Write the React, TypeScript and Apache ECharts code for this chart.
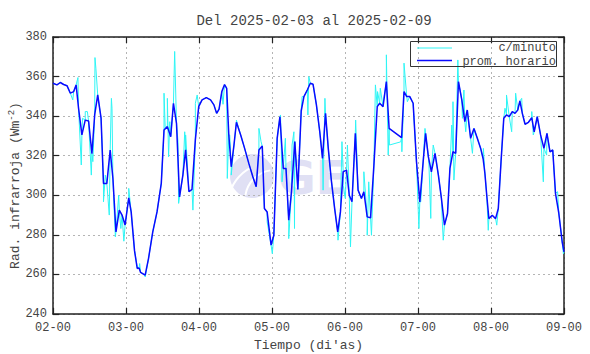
import React, { useEffect, useRef } from "react";
import * as echarts from "echarts";

const TITLE = "Del 2025-02-03 al 2025-02-09";
const X_NAME = "Tiempo (di'as)";
const Y_NAME = "Rad. infrarroja (Wm{sup|-2})";
const DAY_LABELS = ["02-00", "03-00", "04-00", "05-00", "06-00", "07-00", "08-00", "09-00"];
const LEGEND_LABELS = ["c/minuto", "prom. horario"];

// hourly averages: [hours since 02-00, W/m2]
const hourly: [number, number][] = [
  [0.0, 356.6], [1.3, 355.8], [2.4, 357.0], [3.5, 356.0], [4.6, 355.4], [5.7, 351.6], [6.8, 352.4],
  [7.6, 355.8], [8.4, 344.0], [9.5, 330.5], [10.6, 338.0], [11.7, 337.5], [12.8, 321.0], [13.7, 340.6],
  [14.7, 350.7], [15.8, 339.0], [16.6, 306.0], [17.7, 306.0], [18.8, 322.9], [19.7, 308.5], [20.7, 281.5],
  [21.8, 292.5], [22.7, 290.0], [23.7, 285.0], [24.9, 298.7], [25.7, 291.6], [26.8, 272.0], [27.7, 263.0],
  [28.3, 263.3], [28.8, 261.0], [30.3, 259.6], [31.4, 268.0], [32.8, 281.5], [34.2, 291.6], [35.6, 306.0],
  [36.5, 333.0], [37.6, 334.7], [38.7, 329.6], [39.6, 346.5], [40.6, 336.4], [41.6, 299.2], [42.7, 310.2],
  [43.6, 323.0], [44.7, 301.8], [45.7, 303.0], [46.8, 328.0], [47.9, 344.8], [49.0, 348.2], [50.4, 349.4],
  [51.8, 348.2], [52.9, 345.7], [53.8, 341.4], [54.6, 343.6], [55.5, 352.4], [56.4, 356.0], [57.1, 354.0],
  [57.8, 330.5], [58.6, 314.4], [59.5, 325.4], [60.3, 336.9], [61.7, 330.5], [63.0, 323.7], [64.4, 316.0],
  [65.7, 309.4], [66.8, 304.3], [67.7, 322.9], [68.8, 324.9], [69.5, 293.3], [70.4, 291.6], [71.7, 274.8],
  [72.6, 279.8], [73.7, 328.8], [74.6, 339.7], [75.7, 313.6], [76.6, 313.6], [77.5, 287.4], [78.4, 301.8],
  [79.5, 327.1], [80.5, 303.0], [81.6, 342.6], [82.5, 349.9], [83.6, 353.2], [84.6, 356.6], [85.5, 356.1],
  [86.6, 345.7], [87.7, 332.1], [88.6, 318.6], [89.6, 341.4], [90.5, 323.7], [91.5, 307.7], [92.6, 293.3],
  [93.6, 281.5], [94.5, 291.6], [95.4, 311.9], [96.5, 312.7], [97.4, 300.0], [98.3, 296.7], [99.4, 331.3],
  [100.3, 302.6], [101.4, 298.4], [102.2, 301.8], [103.3, 289.1], [104.4, 288.6], [105.5, 315.2],
  [106.6, 344.8], [107.4, 346.5], [108.5, 344.8], [109.6, 357.5], [110.5, 333.8], [114.6, 329.1],
  [115.4, 352.4], [116.3, 349.9], [117.3, 349.9], [118.4, 346.5], [119.5, 317.0], [120.6, 296.7],
  [121.7, 317.0], [122.5, 331.3], [123.4, 319.5], [124.4, 311.9], [125.6, 321.2], [126.7, 310.2],
  [127.7, 298.4], [128.7, 284.9], [129.7, 290.8], [130.5, 313.6], [131.5, 322.0], [132.4, 321.2],
  [133.3, 357.5], [134.4, 348.2], [135.4, 337.2], [136.2, 343.1], [137.3, 328.8], [138.4, 333.8],
  [139.5, 328.8], [140.6, 323.7], [141.4, 318.6], [142.0, 311.0], [142.6, 300.0], [143.3, 288.2],
  [144.4, 289.9], [145.5, 288.2], [146.4, 293.3], [147.3, 317.0], [148.2, 338.9], [149.1, 340.6],
  [150.0, 339.7], [151.0, 342.3], [151.9, 341.4], [152.8, 343.1], [153.5, 347.7], [154.3, 341.4],
  [155.2, 335.9], [156.3, 336.9], [157.4, 339.2], [158.2, 332.1], [159.2, 339.7], [160.3, 330.5],
  [161.4, 323.7], [162.4, 331.3], [163.4, 322.0], [164.3, 322.9], [165.2, 301.0], [166.3, 290.8],
  [167.4, 276.5], [168.0, 271.4],
];

// per-minute readings that stray from the hourly mean: [hours since 02-00, W/m2]
const minuteExtremes: [number, number][] = [
  [6.5, 348.2], [8.2, 359.5], [9.3, 315.3], [9.7, 338.9], [10.6, 342.3], [11.3, 342.3], [12.6, 310.2],
  [13.1, 317.0], [13.8, 369.6], [14.1, 364.2], [15.0, 347.3], [16.6, 296.7], [17.2, 310.2], [18.5, 290.0],
  [19.2, 349.0], [19.4, 344.0], [20.0, 296.7], [20.5, 279.0], [21.6, 300.0], [22.3, 283.2], [23.3, 276.8],
  [24.9, 303.5], [27.6, 264.6], [28.5, 265.5], [30.3, 258.7], [36.5, 351.6], [36.9, 333.8], [37.6, 349.0],
  [38.0, 319.5], [38.4, 337.2], [40.0, 372.7], [40.2, 360.8], [41.1, 327.1], [41.3, 295.9], [43.3, 332.1],
  [43.6, 330.5], [46.0, 292.5], [46.8, 346.5], [47.4, 350.7], [55.9, 346.0], [57.3, 308.5], [58.1, 330.5],
  [58.6, 310.2], [60.3, 338.0], [67.7, 333.8], [68.4, 327.1], [70.4, 286.6], [72.1, 270.5], [74.8, 340.6],
  [75.3, 306.8], [76.4, 328.8], [77.5, 278.1], [78.6, 325.4], [79.2, 332.1], [79.4, 283.2], [81.9, 349.9],
  [83.8, 340.6], [84.1, 360.0], [88.3, 323.7], [88.8, 302.6], [89.4, 349.0], [93.7, 277.3], [95.0, 327.1],
  [95.4, 305.1], [96.1, 298.4], [96.8, 325.4], [97.8, 273.9], [99.5, 338.0], [102.2, 311.9], [103.3, 279.8],
  [103.8, 306.8], [104.7, 279.8], [106.0, 355.8], [106.7, 352.4], [107.6, 354.1], [108.7, 348.2],
  [109.6, 371.0], [110.2, 320.3], [110.6, 325.4], [114.3, 327.0], [114.7, 322.0], [115.4, 366.8],
  [116.5, 347.3], [120.3, 283.2], [120.9, 296.7], [122.3, 333.8], [123.6, 315.3], [124.2, 288.3],
  [125.0, 325.4], [128.0, 286.6], [128.3, 277.3], [131.1, 335.5], [131.5, 347.3], [131.8, 307.7],
  [133.1, 368.4], [134.6, 338.9], [135.1, 353.2], [135.7, 332.1], [137.9, 321.2], [141.5, 323.7],
  [143.1, 282.3], [145.9, 284.9], [148.6, 344.0], [149.1, 350.7], [150.8, 332.1], [152.1, 351.6],
  [154.1, 349.0], [157.4, 342.3], [157.9, 330.5], [161.2, 306.8], [162.3, 320.3], [165.9, 301.8],
  [167.8, 270.5],
];

const FONT = "'Liberation Mono', 'DejaVu Sans Mono', monospace";
const TXT = "#444";
const AX = "#222";

export default function App() {
  const ref = useRef<HTMLDivElement>(null);
  useEffect(() => {
    if (!ref.current) return;
    const chart = echarts.init(ref.current, undefined, { renderer: "svg" });
    const minute = [...hourly.filter((p) => p[0] <= 110.5 || p[0] >= 114.6), ...minuteExtremes].sort(
      (a, b) => a[0] - b[0]
    );
    const fmtX = (v: number) => DAY_LABELS[Math.round(v / 24)] ?? "";
    const axisLine = { show: true, onZero: false, lineStyle: { color: AX, width: 1.5 } };
    const axisTick = { show: true, inside: true, length: 6, lineStyle: { color: AX, width: 1.2 } };
    const splitLine = { show: true, lineStyle: { color: "#b4b4b4", width: 1, type: [2, 3] } };
    const labelStyle = { color: TXT, fontFamily: FONT, fontSize: 12 };
    const nameStyle = { color: TXT, fontFamily: FONT, fontSize: 13 };

    chart.setOption({
      animation: false,
      backgroundColor: "#fff",
      title: {
        text: TITLE,
        left: 309,
        top: 9,
        textAlign: "center",
        textStyle: { color: TXT, fontFamily: FONT, fontSize: 14, fontWeight: "normal" },
      },
      grid: { left: 53, right: 26, top: 37, bottom: 40, containLabel: false, outerBoundsMode: "none" },
      xAxis: [
        {
          type: "value", min: 0, max: 168, interval: 24, position: "bottom",
          axisLine, axisTick, splitLine,
          axisLabel: { ...labelStyle, margin: 8, formatter: fmtX, showMinLabel: true, showMaxLabel: true },
          name: X_NAME, nameLocation: "middle", nameGap: 25, nameMoveOverlap: false, nameTextStyle: nameStyle,
        },
        {
          type: "value", min: 0, max: 168, interval: 24, position: "top",
          axisLine, axisTick, splitLine: { show: false }, axisLabel: { show: false },
        },
      ],
      yAxis: [
        {
          type: "value", min: 240, max: 380, interval: 20, position: "left",
          axisLine, axisTick, splitLine,
          axisLabel: { ...labelStyle, margin: 6 },
          name: Y_NAME, nameLocation: "middle", nameGap: 30, nameRotate: 90, nameMoveOverlap: false,
          nameTextStyle: { ...nameStyle, padding: [0, 20, 0, 0], rich: { sup: { fontFamily: FONT, fontSize: 9, color: TXT, padding: [0, 0, 7, 0] } } },
        },
        {
          type: "value", min: 240, max: 380, interval: 20, position: "right",
          axisLine, axisTick, splitLine: { show: false }, axisLabel: { show: false },
        },
      ],
      graphic: [
        { type: "circle", z: 0, silent: true, shape: { cx: 252, cy: 176, r: 22 }, style: { fill: "#e0e0f4" } },
        { type: "arc", z: 0, silent: true, shape: { cx: 275, cy: 200, r: 30, startAngle: Math.PI * 1.05, endAngle: Math.PI * 1.45 }, style: { stroke: "#fff", lineWidth: 2, fill: "none" } },
        { type: "arc", z: 0, silent: true, shape: { cx: 270, cy: 205, r: 42, startAngle: Math.PI * 1.05, endAngle: Math.PI * 1.35 }, style: { stroke: "#fff", lineWidth: 2, fill: "none" } },
        { type: "text", z: 0, silent: true, x: 278, y: 155, style: { text: "GE", font: "bold 46px 'DejaVu Sans', sans-serif", fill: "#e0e0f4" } },
        { type: "rect", z: 10, silent: true, shape: { x: 410.5, y: 41.5, width: 146, height: 25 }, style: { fill: "none", stroke: "#333", lineWidth: 1 } },
        { type: "line", z: 10, silent: true, shape: { x1: 417, y1: 48, x2: 452, y2: 48 }, style: { stroke: "#2ef5f5", lineWidth: 1 } },
        { type: "line", z: 10, silent: true, shape: { x1: 417, y1: 60.5, x2: 452, y2: 60.5 }, style: { stroke: "#0a0aff", lineWidth: 1.5 } },
        { type: "text", z: 10, silent: true, x: 556, y: 48, style: { text: LEGEND_LABELS[0], font: `12px ${FONT}`, fill: TXT, align: "right", verticalAlign: "middle" } },
        { type: "text", z: 10, silent: true, x: 556, y: 61.5, style: { text: LEGEND_LABELS[1], font: `12px ${FONT}`, fill: TXT, align: "right", verticalAlign: "middle" } },
      ],
      series: [
        {
          name: LEGEND_LABELS[0], type: "line", data: minute, showSymbol: false, symbol: "none",
          lineStyle: { color: "#2ef5f5", width: 1 }, z: 2,
        },
        {
          name: LEGEND_LABELS[1], type: "line", data: hourly, showSymbol: false, symbol: "none",
          lineStyle: { color: "#0a0aff", width: 1.5 }, z: 3,
        },
      ],
    });
    return () => chart.dispose();
  }, []);
  return <div ref={ref} style={{ width: 590, height: 354, position: "absolute", left: 0, top: 0 }} />;
}
